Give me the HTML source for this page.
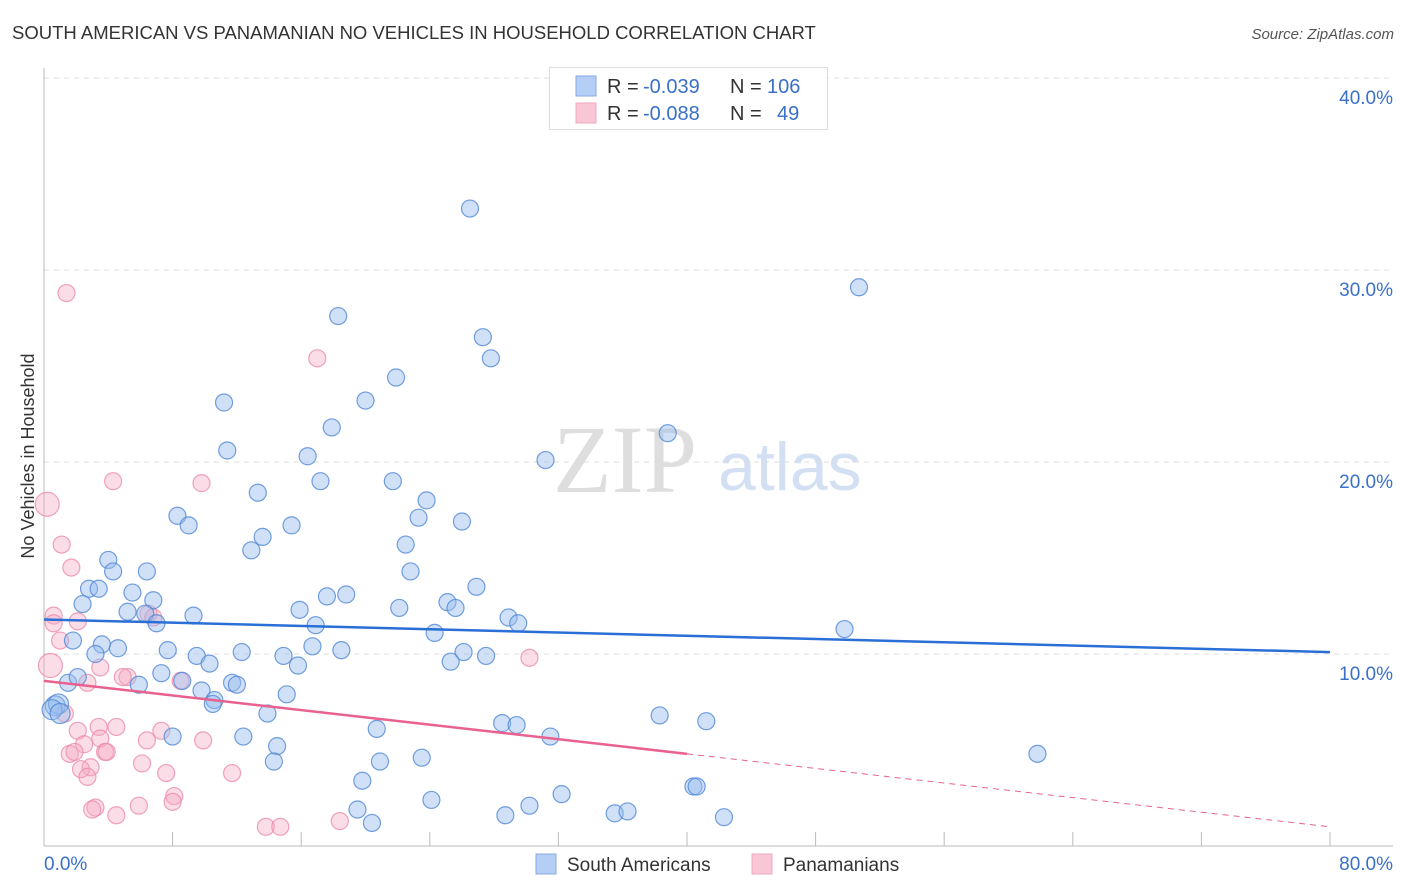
<!DOCTYPE html>
<html><head><meta charset="utf-8"><style>
body{margin:0;background:#fff;font-family:"Liberation Sans",sans-serif}
</style></head><body>
<svg width="1406" height="892" viewBox="0 0 1406 892" xmlns="http://www.w3.org/2000/svg" font-family="Liberation Sans, sans-serif" style="display:block">
<text x="12" y="39" font-size="18.5" fill="#333">SOUTH AMERICAN VS PANAMANIAN NO VEHICLES IN HOUSEHOLD CORRELATION CHART</text>
<text x="1394" y="39" font-size="15" fill="#555" font-style="italic" text-anchor="end">Source: ZipAtlas.com</text>
<g>
<text x="553" y="492" font-size="96" fill="#dedede" font-family="Liberation Serif, serif">ZIP</text>
<text x="718" y="490" font-size="68" fill="#d3e0f3">atlas</text>
</g>
<g id="grid"></g>
<g id="axes"></g>
<g id="marks"></g>
<text transform="translate(34,456) rotate(-90)" font-size="18" fill="#333" text-anchor="middle">No Vehicles in Household</text>
<g font-size="20">
<rect x="549.5" y="67.5" width="278" height="62" fill="#fff" stroke="#ddd"/>
<rect x="576" y="76" width="20" height="20" fill="#b5cef5" stroke="#86a9e3"/>
<rect x="576" y="103" width="20" height="20" fill="#f9c6d6" stroke="#eea8be"/>
<text x="607" y="93" fill="#333">R =</text>
<text x="643" y="93" fill="#3a70c8">-0.039</text>
<text x="730" y="93" fill="#333">N =</text>
<text x="767" y="93" fill="#3a70c8">106</text>
<text x="607" y="120" fill="#333">R =</text>
<text x="643" y="120" fill="#3a70c8">-0.088</text>
<text x="730" y="120" fill="#333">N =</text>
<text x="777" y="120" fill="#3a70c8">49</text>
</g>
<g>
<rect x="536" y="854" width="20" height="20" fill="#b5cef5" stroke="#86a9e3"/>
<text x="567" y="871" font-size="19" fill="#333">South Americans</text>
<rect x="752" y="854" width="20" height="20" fill="#f9c6d6" stroke="#eea8be"/>
<text x="783" y="871" font-size="19" fill="#333">Panamanians</text>
</g>
</svg>
<script>
const yTicks=[10,20,30,40];
const yTickLabels=["10.0%","20.0%","30.0%","40.0%"];
const xTickLabels=["0.0%","80.0%"];
const blueX=[26.5,50.7,18.3,27.3,27.8,21.9,20.0,11.2,17.9,38.8,11.4,31.2,16.4,17.2,21.7,13.3,23.8,8.3,9.0,23.3,26.0,15.4,13.6,12.9,22.5,4.0,4.3,6.4,22.8,26.9,2.8,3.4,5.5,6.8,2.4,18.8,17.6,15.9,22.1,25.1,25.6,5.2,6.3,9.3,7.0,28.9,29.5,16.9,49.8,24.3,1.8,3.6,4.6,3.2,7.7,9.5,12.3,18.5,14.9,16.7,26.1,27.5,25.3,15.8,10.3,7.3,8.6,5.9,11.7,12.0,1.5,2.1,9.8,10.6,15.1,10.5,13.9,38.3,41.2,28.5,29.4,20.7,8.0,12.4,31.5,14.5,14.3,23.5,20.9,61.8,19.8,40.4,40.6,24.1,32.2,30.2,19.5,35.5,36.3,20.4,28.7,42.3,0.7,0.9,0.5,1.0];
const blueY=[33.2,29.1,27.6,26.5,25.4,24.4,23.2,23.1,21.8,21.5,20.6,20.1,20.3,19.0,19.0,18.4,18.0,17.2,16.7,17.1,16.9,16.7,16.1,15.4,15.7,14.9,14.3,14.3,14.3,13.5,13.4,13.4,13.2,12.8,12.6,13.1,13.0,12.3,12.4,12.7,12.4,12.2,12.1,12.0,11.6,11.9,11.6,11.5,11.3,11.1,10.7,10.5,10.3,10.0,10.2,9.9,10.1,10.2,9.9,10.4,10.1,9.9,9.6,9.4,9.5,9.0,8.6,8.4,8.5,8.4,8.5,8.8,8.1,7.6,7.9,7.4,6.9,6.8,6.5,6.4,6.3,6.1,5.7,5.7,5.7,5.2,4.4,4.6,4.4,4.8,3.4,3.1,3.1,2.4,2.7,2.1,1.9,1.7,1.8,1.2,1.6,1.5,7.3,7.4,7.1,6.9];
const pinkX=[1.4,17.0,4.3,9.8,0.2,1.1,1.7,0.6,0.6,2.1,1.0,6.5,6.8,0.4,3.5,5.2,4.9,8.5,2.7,30.2,1.3,3.4,4.5,2.1,7.3,9.9,6.4,2.5,3.5,3.8,1.6,1.9,3.9,6.1,2.9,2.3,2.7,7.6,11.7,8.1,8.0,3.2,3.0,5.9,4.5,13.8,14.7,18.4];
const pinkY=[28.8,25.4,19.0,18.9,17.8,15.7,14.5,12.0,11.6,11.7,10.7,12.1,11.9,9.4,9.3,8.8,8.8,8.6,8.5,9.8,6.9,6.2,6.2,6.0,6.0,5.5,5.5,5.3,5.6,4.9,4.8,4.9,4.9,4.3,4.1,4.0,3.6,3.8,3.8,2.6,2.3,2.0,1.9,2.1,1.6,1.0,1.0,1.3];
const blueTrend=[11.8,10.1];
const pinkTrend=[8.6,4.8,1.0];
const NS="http://www.w3.org/2000/svg";
const X=v=>44+v*16.075, Y=v=>846-v*19.2;
function mk(t,a,p){const e=document.createElementNS(NS,t);for(const k in a)e.setAttribute(k,a[k]);document.getElementById(p).appendChild(e);return e;}
yTicks.forEach((t,i)=>{
 const g=mk('line',{x1:44,x2:1393,y1:Y(t),y2:Y(t),stroke:'#ddd','stroke-dasharray':'5,5'},'grid');
 
 
 const l=mk('text',{x:1393,y:Y(t)+26,'font-size':19,fill:'#3a70c8','text-anchor':'end'},'axes');
 l.textContent=yTickLabels[i];
 
 
});
let ax=mk('line',{x1:44,x2:44,y1:68,y2:846,stroke:'#bbb'},'axes');


ax=mk('line',{x1:44,x2:1393,y1:846,y2:846,stroke:'#bbb'},'axes');


for(let k=1;k<=10;k++){const t=mk('line',{x1:X(k*8),x2:X(k*8),y1:832,y2:846,stroke:'#bbb'},'axes');
 
 }
let xl=mk('text',{x:44,y:870,'font-size':19,fill:'#3a70c8'},'axes');xl.textContent=xTickLabels[0];


xl=mk('text',{x:1393,y:870,'font-size':19,fill:'#3a70c8','text-anchor':'end'},'axes');xl.textContent=xTickLabels[1];


pinkX.forEach((v,i)=>{const big=(i==4||i==13);const c=mk('circle',{cx:X(v),cy:Y(pinkY[i]),r:big?12:8.5,fill:'rgba(246,170,195,0.4)',stroke:'rgba(236,140,170,0.8)','stroke-width':1.2},'marks');
 
 });
blueX.forEach((v,i)=>{const big=i>=102;const c=mk('circle',{cx:X(v),cy:Y(blueY[i]),r:big?10:8.5,fill:'rgba(150,188,238,0.45)',stroke:'rgba(80,135,215,0.8)','stroke-width':1.2},'marks');
 
 });
let tl=mk('line',{x1:X(0),x2:X(80),y1:Y(blueTrend[0]),y2:Y(blueTrend[1]),stroke:'#2a6fd6','stroke-width':2.5},'marks');


tl=mk('line',{x1:X(0),x2:X(40),y1:Y(pinkTrend[0]),y2:Y(pinkTrend[1]),stroke:'#e8618f','stroke-width':2.5},'marks');


tl=mk('line',{x1:X(40),x2:X(80),y1:Y(pinkTrend[1]),y2:Y(pinkTrend[2]),stroke:'#e8618f','stroke-width':1,'stroke-dasharray':'6,5'},'marks');


</script>
</body></html>
